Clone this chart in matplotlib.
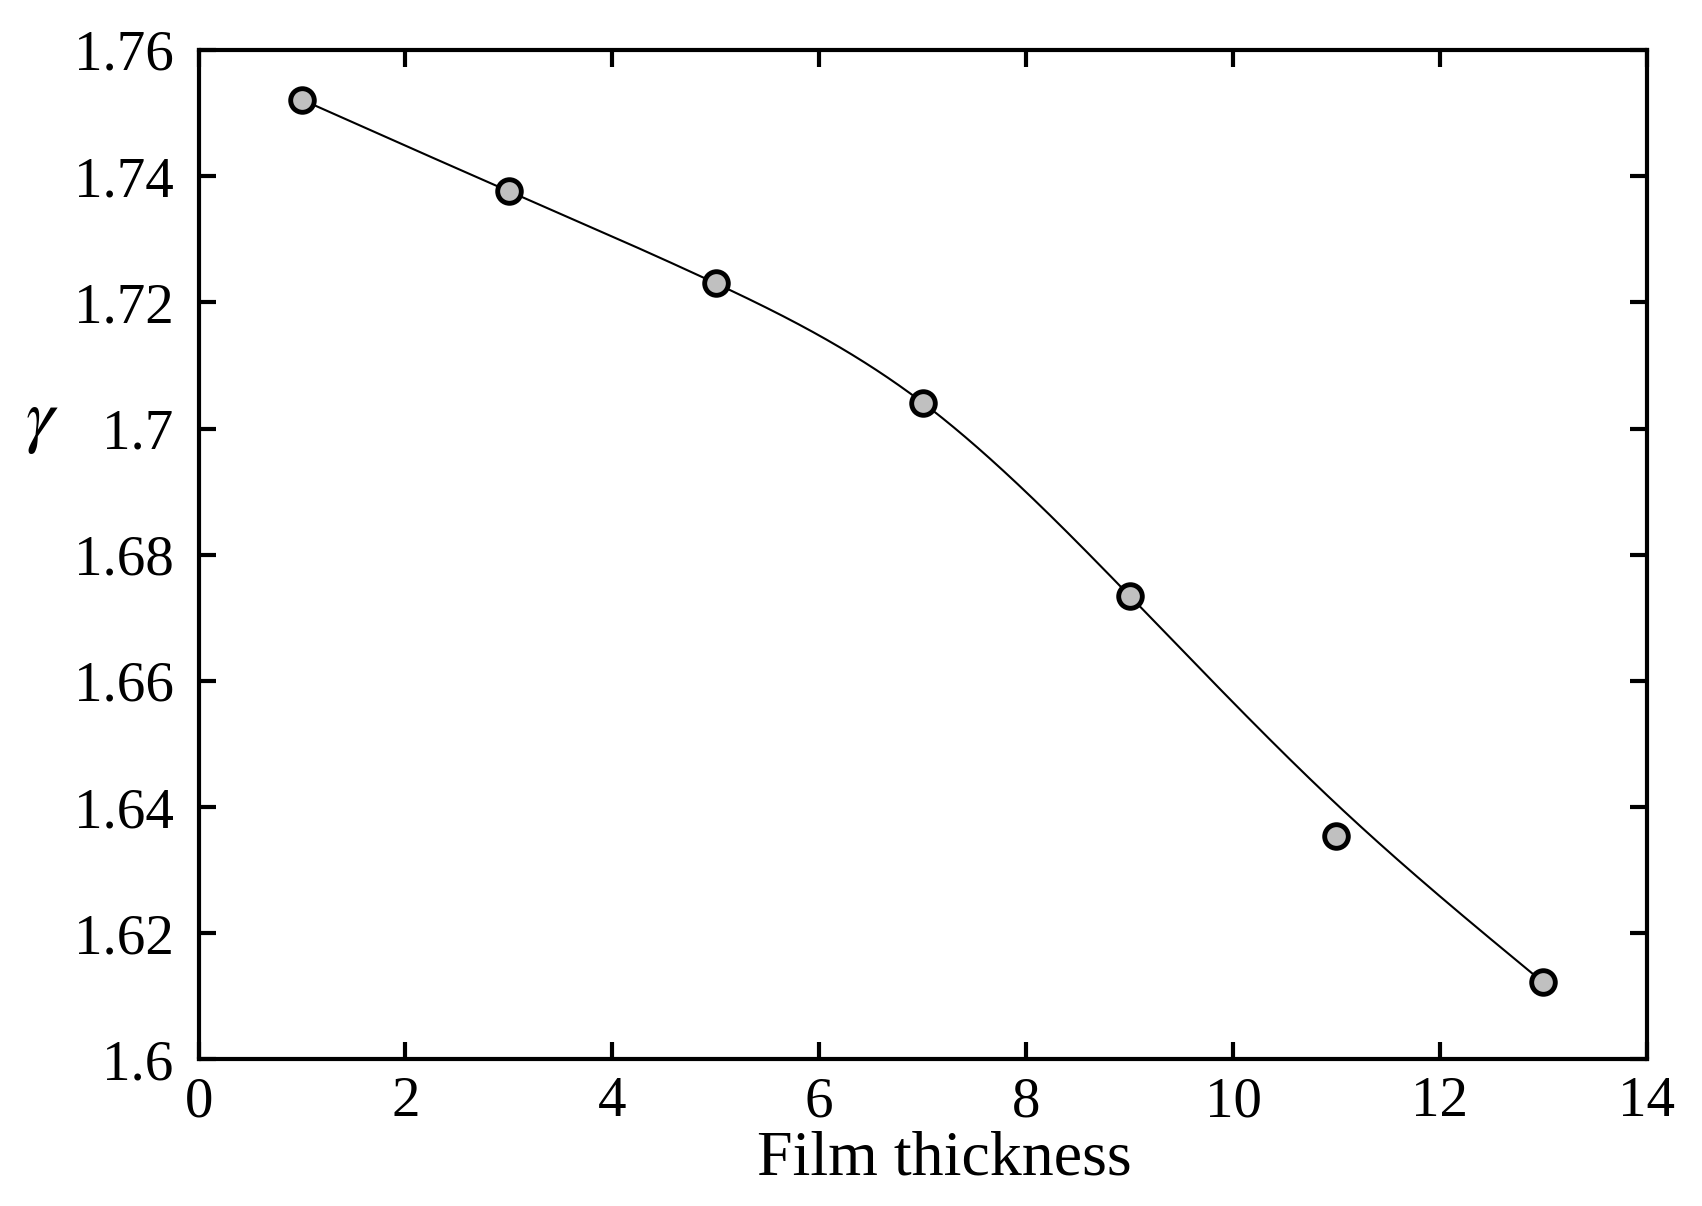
import numpy as np
import matplotlib
matplotlib.use('Agg')
import matplotlib.pyplot as plt

# film thickness vs gamma
thickness = [1, 3, 5, 7, 9, 11, 13]
gamma = [1.7521, 1.7376, 1.7230, 1.7041, 1.6735, 1.6354, 1.6122]
# weights for the smoothing curve (point at 11 lies off the curve)
fit_weight = [1, 1, 1, 1, 1, 0.0004, 1]

plt.rcParams['font.family'] = ['Liberation Serif', 'DejaVu Serif']


def smooth_curve(x, y, w, lam=1e-3, h=0.01):
    # penalised (spline-like) smoother on a fine grid
    x = np.asarray(x, float); y = np.asarray(y, float)
    xs = np.arange(x[0], x[-1] + h / 2, h)
    n = len(xs)
    idx = np.round((x - x[0]) / h).astype(int)
    W = np.zeros(n); z = np.zeros(n)
    W[idx] = w; z[idx] = y
    D = np.diff(np.eye(n), 2, axis=0) / h**2
    A = np.diag(W) + lam * h * D.T @ D
    return xs, np.linalg.solve(A, W * z)


fig = plt.figure(figsize=(17.02, 12.06), dpi=100)
ax = fig.add_axes([0.1167, 0.1215, 0.8508, 0.8371])

xs, ys = smooth_curve(thickness, gamma, fit_weight)
ax.plot(xs, ys, color='black', lw=1.5, zorder=2)
ax.plot(thickness, gamma, 'o', ms=17, mfc='#c0c0c0', mec='black', mew=3.5, zorder=3)

ax.set_xlim(0, 14)
ax.set_ylim(1.6, 1.76)
ax.set_xticks(np.arange(0, 15, 2))
ax.set_yticks(np.arange(1.6, 1.7601, 0.02))
ax.set_yticklabels(['1.6', '1.62', '1.64', '1.66', '1.68', '1.7', '1.72', '1.74', '1.76'])
ax.tick_params(direction='in', length=12, width=3, top=True, right=True, labelsize=41)
ax.tick_params(axis='y', pad=18)
ax.tick_params(axis='x', pad=12)
for s in ax.spines.values():
    s.set_linewidth(3)

ax.set_xlabel('Film thickness', fontsize=46, labelpad=0)
ax.xaxis.set_label_coords(0.515, -0.07, transform=ax.transAxes)
ax.xaxis.label.set_va('top')
ax.set_ylabel(r'$\gamma$', fontsize=52, rotation=0, math_fontfamily='stix')
ax.yaxis.set_label_coords(-0.108, 0.63)
ax.yaxis.label.set_va('center')

fig.savefig('out.png', dpi=100)
